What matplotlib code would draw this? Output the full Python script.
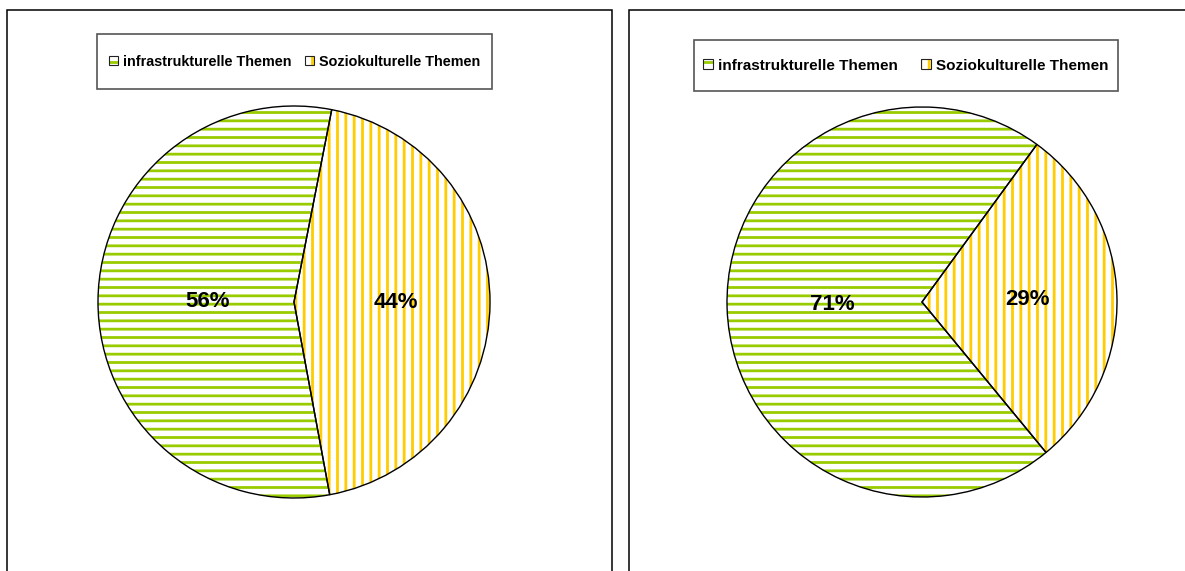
import matplotlib
matplotlib.use("Agg")
import matplotlib.pyplot as plt
from matplotlib.patches import Rectangle, Wedge
from matplotlib.legend_handler import HandlerBase
from matplotlib.transforms import offset_copy

plt.rcParams['font.family'] = ['Liberation Sans', 'DejaVu Sans']
plt.rcParams['hatch.linewidth'] = 2.0

# ---- data ----
categories = ["infrastrukturelle Themen", "Soziokulturelle Themen"]
left_values = [56, 44]
right_values = [71, 29]

hatch_colors = ["#99CC00", "#FFCC00"]
hatches = ["--", "||"]

W, H = 1185, 571
fig = plt.figure(figsize=(W / 100, H / 100), dpi=100)
fig.patch.set_facecolor("white")


def fx(x):
    return x / W


def fy(y):
    return 1 - y / H


# panel frames
for (x0, y0, x1, y1) in [(7, 10, 612, 600), (629, 10, 1200, 600)]:
    fig.patches.append(Rectangle((fx(x0), fy(y1)), fx(x1) - fx(x0), fy(y0) - fy(y1),
                                 transform=fig.transFigure, fill=False,
                                 edgecolor="black", lw=1.1, zorder=0))


class HatchBox(HandlerBase):
    def create_artists(self, legend, orig_handle, xdescent, ydescent,
                       width, height, fontsize, trans):
        s = min(width, height)
        x0 = -xdescent + (width - s) / 2
        y0 = -ydescent + (height - s) / 2
        fill = Rectangle((x0, y0), s, s, facecolor="white",
                         edgecolor=orig_handle.get_edgecolor(),
                         hatch=orig_handle.get_hatch(), lw=0, transform=trans)
        outline = Rectangle((x0, y0), s, s, fill=False, edgecolor="#222222",
                            lw=0.8, transform=trans)
        return [fill, outline]


def draw_pie(values, cx, cy, r, startangle, pctdist, legbox, legfs, colsp):
    ax = fig.add_axes([fx(cx - r), fy(cy + r), fx(2 * r), (2 * r) / H])
    wedges, texts, autotexts = ax.pie(
        values, colors=["white", "white"], startangle=startangle,
        counterclock=False, autopct="%.0f%%", pctdistance=pctdist,
        radius=1, textprops=dict(fontsize=16, fontweight="bold", color="black"))
    for w, c, h in zip(wedges, hatch_colors, hatches):
        w.set_edgecolor(c)
        w.set_hatch(h)
        w.set_linewidth(0)
    for t in autotexts:
        t.set_transform(offset_copy(t.get_transform(), fig=fig, x=8, y=0, units="dots"))
        t.set_zorder(5)
    ax.pie(values, startangle=startangle, counterclock=False, radius=1,
           wedgeprops=dict(fill=False, edgecolor="black", linewidth=1.0))
    ax.set_xlim(-1, 1)
    ax.set_ylim(-1, 1)
    ax.set_aspect("equal")
    ax.axis("off")

    # legend frame
    lx0, ly0, lx1, ly1 = legbox
    fig.patches.append(Rectangle((fx(lx0), fy(ly1)), fx(lx1) - fx(lx0), fy(ly0) - fy(ly1),
                                 transform=fig.transFigure, facecolor="white",
                                 edgecolor="#555555", lw=1.2, zorder=1))
    leg = fig.legend(wedges, categories, loc="center",
                     bbox_to_anchor=(fx((lx0 + lx1) / 2), fy((ly0 + ly1) / 2)),
                     ncol=2, frameon=False, handler_map={Wedge: HatchBox()},
                     handlelength=0.65, handleheight=0.65, handletextpad=0.35,
                     columnspacing=colsp, borderpad=0,
                     prop=dict(family="Liberation Sans", weight="bold", size=legfs))
    leg.set_zorder(2)


draw_pie(left_values, 294, 302, 196, -79.5, 0.48, (97, 34, 492, 89), 10.4, 0.9)
draw_pie(right_values, 922, 302, 195, -50.5, 0.5, (694, 40, 1118, 91), 11.0, 1.5)

fig.savefig("out.png", dpi=100, facecolor="white")
